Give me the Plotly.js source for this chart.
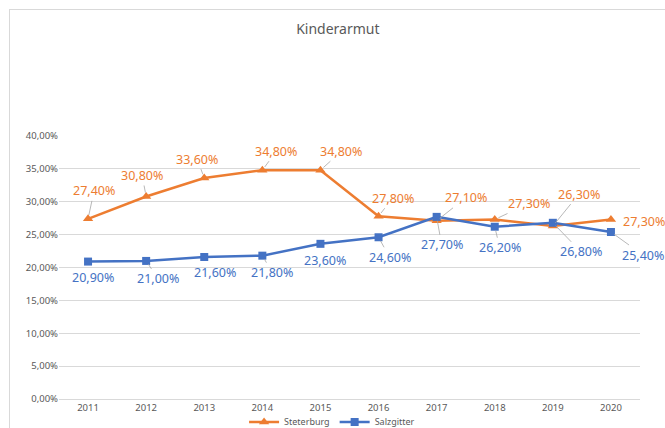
<!DOCTYPE html>
<html>
<head>
<meta charset="utf-8">
<script src="https://cdn.plot.ly/plotly-3.0.1.min.js"></script>
<style>
  html, body { margin: 0; padding: 0; background: #fff; overflow: hidden; }
  #chart { width: 665px; height: 428px; position: absolute; left: 0; top: 0; }
  #frame { position: absolute; left: 9px; top: 9px; width: 700px; height: 460px;
           border-left: 1px solid #d9d9d9; border-top: 1px solid #d9d9d9; pointer-events: none; }
</style>
</head>
<body>
<div id="chart"></div>
<div id="frame"></div>
<script>
// ---- data ----
const years = ['2011','2012','2013','2014','2015','2016','2017','2018','2019','2020'];
const steterburg = [0.274, 0.308, 0.336, 0.348, 0.348, 0.278, 0.271, 0.273, 0.263, 0.273];
const salzgitter = [0.209, 0.210, 0.216, 0.218, 0.236, 0.246, 0.277, 0.262, 0.268, 0.254];
const seriesNames = ['Steterburg', 'Salzgitter'];
const chartTitle = 'Kinderarmut';

// ---- label placement (pixel offsets from each point) ----
const orangeOffsets = [[6,-28],[-4,-21],[-7,-19],[14,-19],[21,-19],[14,-18],[29,-23],[34,-16],[26,-32],[33,2]];
const orangeLeader  = [1,1,1,1,1,1,1,1,1,0];
const blueOffsets   = [[5,16],[12,18],[11,16],[10,17],[5,17],[11,20],[5,28],[5,21],[28,29],[32,23]];
const blueLeader    = [0,1,0,1,0,1,1,1,1,1];

const ORANGE = '#ED7D31';
const BLUE = '#4472C4';
const FONT = 'Noto Sans, Open Sans, sans-serif';

function fmt(v) {
  return (v * 100).toFixed(2).replace('.', ',') + '%';
}

const traces = [
  {
    x: years, y: steterburg, name: seriesNames[0], type: 'scatter', mode: 'lines+markers',
    line: { color: ORANGE, width: 2.5 },
    marker: { symbol: 'triangle-up', size: 9, color: ORANGE },
    hoverinfo: 'skip'
  },
  {
    x: years, y: salzgitter, name: seriesNames[1], type: 'scatter', mode: 'lines+markers',
    line: { color: BLUE, width: 2.5 },
    marker: { symbol: 'square', size: 8, color: BLUE },
    hoverinfo: 'skip'
  }
];

const annotations = [];
function addLabels(vals, offsets, leaders, color) {
  vals.forEach((v, i) => {
    annotations.push({
      x: i, y: v, xref: 'x', yref: 'y',
      text: fmt(v),
      showarrow: true, arrowhead: 0, arrowwidth: 0.8, standoff: 4,
      arrowcolor: leaders[i] ? '#a6a6a6' : 'rgba(0,0,0,0)',
      ax: offsets[i][0], ay: offsets[i][1],
      font: { family: FONT, size: 12.5, color: color }
    });
  });
}
addLabels(steterburg, orangeOffsets, orangeLeader, ORANGE);
addLabels(salzgitter, blueOffsets, blueLeader, BLUE);

const layout = {
  width: 665, height: 428,
  margin: { l: 59, r: 25, t: 136, b: 29, autoexpand: false },
  paper_bgcolor: '#ffffff', plot_bgcolor: '#ffffff',
  separators: ', ',
  title: {
    text: chartTitle, x: 0.508, xref: 'container', y: 0.932, yref: 'container',
    xanchor: 'center', yanchor: 'middle',
    font: { family: FONT, size: 14, color: '#595959' }
  },
  xaxis: {
    type: 'category', range: [-0.5, 9.5],
    showgrid: false, showline: true, linecolor: '#d9d9d9', linewidth: 1,
    ticks: '', tickfont: { family: FONT, size: 9.5, color: '#595959' },
    fixedrange: true
  },
  yaxis: {
    range: [0, 0.40], dtick: 0.05, tickformat: '.2%',
    showgrid: true, gridcolor: '#d9d9d9', gridwidth: 1,
    zeroline: false, showline: false, ticks: '', ticklen: 0,
    tickfont: { family: FONT, size: 9.5, color: '#595959' },
    fixedrange: true
  },
  showlegend: true,
  legend: {
    orientation: 'h', x: 0.47, xanchor: 'center', y: -0.032, yanchor: 'top',
    bgcolor: 'rgba(0,0,0,0)',
    font: { family: FONT, size: 9, color: '#595959' },
    itemwidth: 30, tracegroupgap: 0
  },
  annotations: annotations
};

Plotly.newPlot('chart', traces, layout, { staticPlot: true, displayModeBar: false });
</script>
</body>
</html>
